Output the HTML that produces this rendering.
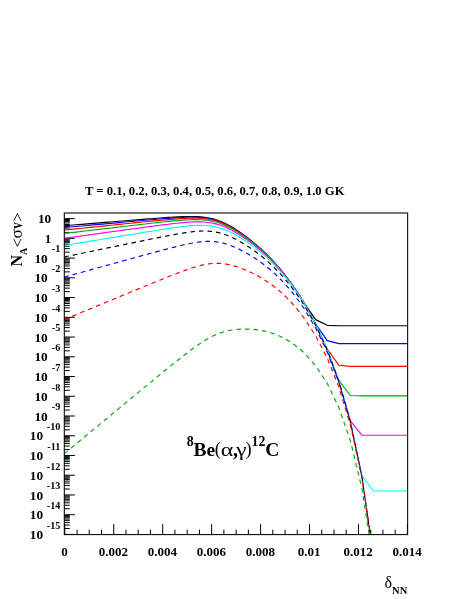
<!DOCTYPE html>
<html><head><meta charset="utf-8"><title>plot</title>
<style>html,body{margin:0;padding:0;background:#fff}body{width:463px;height:599px;overflow:hidden;font-family:"Liberation Serif",serif}</style></head>
<body>
<svg width="463" height="599" viewBox="0 0 463 599" style="display:block;will-change:transform">
<rect width="463" height="599" fill="#fff"/>
<defs><clipPath id="cp"><rect x="64.3" y="213.0" width="343.34999999999997" height="321.6"/></clipPath></defs>
<g stroke="#000" stroke-width="1">
<line x1="64.3" x2="74.89999999999999" y1="218.60" y2="218.60"/>
<line x1="64.3" x2="74.89999999999999" y1="238.34" y2="238.34"/>
<line x1="64.3" x2="74.89999999999999" y1="258.08" y2="258.08"/>
<line x1="64.3" x2="74.89999999999999" y1="277.82" y2="277.82"/>
<line x1="64.3" x2="74.89999999999999" y1="297.56" y2="297.56"/>
<line x1="64.3" x2="74.89999999999999" y1="317.30" y2="317.30"/>
<line x1="64.3" x2="74.89999999999999" y1="337.04" y2="337.04"/>
<line x1="64.3" x2="74.89999999999999" y1="356.78" y2="356.78"/>
<line x1="64.3" x2="74.89999999999999" y1="376.52" y2="376.52"/>
<line x1="64.3" x2="74.89999999999999" y1="396.26" y2="396.26"/>
<line x1="64.3" x2="74.89999999999999" y1="416.00" y2="416.00"/>
<line x1="64.3" x2="74.89999999999999" y1="435.74" y2="435.74"/>
<line x1="64.3" x2="74.89999999999999" y1="455.48" y2="455.48"/>
<line x1="64.3" x2="74.89999999999999" y1="475.22" y2="475.22"/>
<line x1="64.3" x2="74.89999999999999" y1="494.96" y2="494.96"/>
<line x1="64.3" x2="74.89999999999999" y1="514.70" y2="514.70"/>
<line x1="64.3" x2="74.89999999999999" y1="534.44" y2="534.44"/>
<line x1="64.3" x2="69.8" y1="232.40" y2="232.40"/>
<line x1="64.3" x2="69.8" y1="228.92" y2="228.92"/>
<line x1="64.3" x2="69.8" y1="226.46" y2="226.46"/>
<line x1="64.3" x2="69.8" y1="224.54" y2="224.54"/>
<line x1="64.3" x2="69.8" y1="222.98" y2="222.98"/>
<line x1="64.3" x2="69.8" y1="221.66" y2="221.66"/>
<line x1="64.3" x2="69.8" y1="220.51" y2="220.51"/>
<line x1="64.3" x2="69.8" y1="219.50" y2="219.50"/>
<line x1="64.3" x2="69.8" y1="252.14" y2="252.14"/>
<line x1="64.3" x2="69.8" y1="248.66" y2="248.66"/>
<line x1="64.3" x2="69.8" y1="246.20" y2="246.20"/>
<line x1="64.3" x2="69.8" y1="244.28" y2="244.28"/>
<line x1="64.3" x2="69.8" y1="242.72" y2="242.72"/>
<line x1="64.3" x2="69.8" y1="241.40" y2="241.40"/>
<line x1="64.3" x2="69.8" y1="240.25" y2="240.25"/>
<line x1="64.3" x2="69.8" y1="239.24" y2="239.24"/>
<line x1="64.3" x2="69.8" y1="271.88" y2="271.88"/>
<line x1="64.3" x2="69.8" y1="268.40" y2="268.40"/>
<line x1="64.3" x2="69.8" y1="265.94" y2="265.94"/>
<line x1="64.3" x2="69.8" y1="264.02" y2="264.02"/>
<line x1="64.3" x2="69.8" y1="262.46" y2="262.46"/>
<line x1="64.3" x2="69.8" y1="261.14" y2="261.14"/>
<line x1="64.3" x2="69.8" y1="259.99" y2="259.99"/>
<line x1="64.3" x2="69.8" y1="258.98" y2="258.98"/>
<line x1="64.3" x2="69.8" y1="291.62" y2="291.62"/>
<line x1="64.3" x2="69.8" y1="288.14" y2="288.14"/>
<line x1="64.3" x2="69.8" y1="285.68" y2="285.68"/>
<line x1="64.3" x2="69.8" y1="283.76" y2="283.76"/>
<line x1="64.3" x2="69.8" y1="282.20" y2="282.20"/>
<line x1="64.3" x2="69.8" y1="280.88" y2="280.88"/>
<line x1="64.3" x2="69.8" y1="279.73" y2="279.73"/>
<line x1="64.3" x2="69.8" y1="278.72" y2="278.72"/>
<line x1="64.3" x2="69.8" y1="311.36" y2="311.36"/>
<line x1="64.3" x2="69.8" y1="307.88" y2="307.88"/>
<line x1="64.3" x2="69.8" y1="305.42" y2="305.42"/>
<line x1="64.3" x2="69.8" y1="303.50" y2="303.50"/>
<line x1="64.3" x2="69.8" y1="301.94" y2="301.94"/>
<line x1="64.3" x2="69.8" y1="300.62" y2="300.62"/>
<line x1="64.3" x2="69.8" y1="299.47" y2="299.47"/>
<line x1="64.3" x2="69.8" y1="298.46" y2="298.46"/>
<line x1="64.3" x2="69.8" y1="331.10" y2="331.10"/>
<line x1="64.3" x2="69.8" y1="327.62" y2="327.62"/>
<line x1="64.3" x2="69.8" y1="325.16" y2="325.16"/>
<line x1="64.3" x2="69.8" y1="323.24" y2="323.24"/>
<line x1="64.3" x2="69.8" y1="321.68" y2="321.68"/>
<line x1="64.3" x2="69.8" y1="320.36" y2="320.36"/>
<line x1="64.3" x2="69.8" y1="319.21" y2="319.21"/>
<line x1="64.3" x2="69.8" y1="318.20" y2="318.20"/>
<line x1="64.3" x2="69.8" y1="350.84" y2="350.84"/>
<line x1="64.3" x2="69.8" y1="347.36" y2="347.36"/>
<line x1="64.3" x2="69.8" y1="344.90" y2="344.90"/>
<line x1="64.3" x2="69.8" y1="342.98" y2="342.98"/>
<line x1="64.3" x2="69.8" y1="341.42" y2="341.42"/>
<line x1="64.3" x2="69.8" y1="340.10" y2="340.10"/>
<line x1="64.3" x2="69.8" y1="338.95" y2="338.95"/>
<line x1="64.3" x2="69.8" y1="337.94" y2="337.94"/>
<line x1="64.3" x2="69.8" y1="370.58" y2="370.58"/>
<line x1="64.3" x2="69.8" y1="367.10" y2="367.10"/>
<line x1="64.3" x2="69.8" y1="364.64" y2="364.64"/>
<line x1="64.3" x2="69.8" y1="362.72" y2="362.72"/>
<line x1="64.3" x2="69.8" y1="361.16" y2="361.16"/>
<line x1="64.3" x2="69.8" y1="359.84" y2="359.84"/>
<line x1="64.3" x2="69.8" y1="358.69" y2="358.69"/>
<line x1="64.3" x2="69.8" y1="357.68" y2="357.68"/>
<line x1="64.3" x2="69.8" y1="390.32" y2="390.32"/>
<line x1="64.3" x2="69.8" y1="386.84" y2="386.84"/>
<line x1="64.3" x2="69.8" y1="384.38" y2="384.38"/>
<line x1="64.3" x2="69.8" y1="382.46" y2="382.46"/>
<line x1="64.3" x2="69.8" y1="380.90" y2="380.90"/>
<line x1="64.3" x2="69.8" y1="379.58" y2="379.58"/>
<line x1="64.3" x2="69.8" y1="378.43" y2="378.43"/>
<line x1="64.3" x2="69.8" y1="377.42" y2="377.42"/>
<line x1="64.3" x2="69.8" y1="410.06" y2="410.06"/>
<line x1="64.3" x2="69.8" y1="406.58" y2="406.58"/>
<line x1="64.3" x2="69.8" y1="404.12" y2="404.12"/>
<line x1="64.3" x2="69.8" y1="402.20" y2="402.20"/>
<line x1="64.3" x2="69.8" y1="400.64" y2="400.64"/>
<line x1="64.3" x2="69.8" y1="399.32" y2="399.32"/>
<line x1="64.3" x2="69.8" y1="398.17" y2="398.17"/>
<line x1="64.3" x2="69.8" y1="397.16" y2="397.16"/>
<line x1="64.3" x2="69.8" y1="429.80" y2="429.80"/>
<line x1="64.3" x2="69.8" y1="426.32" y2="426.32"/>
<line x1="64.3" x2="69.8" y1="423.86" y2="423.86"/>
<line x1="64.3" x2="69.8" y1="421.94" y2="421.94"/>
<line x1="64.3" x2="69.8" y1="420.38" y2="420.38"/>
<line x1="64.3" x2="69.8" y1="419.06" y2="419.06"/>
<line x1="64.3" x2="69.8" y1="417.91" y2="417.91"/>
<line x1="64.3" x2="69.8" y1="416.90" y2="416.90"/>
<line x1="64.3" x2="69.8" y1="449.54" y2="449.54"/>
<line x1="64.3" x2="69.8" y1="446.06" y2="446.06"/>
<line x1="64.3" x2="69.8" y1="443.60" y2="443.60"/>
<line x1="64.3" x2="69.8" y1="441.68" y2="441.68"/>
<line x1="64.3" x2="69.8" y1="440.12" y2="440.12"/>
<line x1="64.3" x2="69.8" y1="438.80" y2="438.80"/>
<line x1="64.3" x2="69.8" y1="437.65" y2="437.65"/>
<line x1="64.3" x2="69.8" y1="436.64" y2="436.64"/>
<line x1="64.3" x2="69.8" y1="469.28" y2="469.28"/>
<line x1="64.3" x2="69.8" y1="465.80" y2="465.80"/>
<line x1="64.3" x2="69.8" y1="463.34" y2="463.34"/>
<line x1="64.3" x2="69.8" y1="461.42" y2="461.42"/>
<line x1="64.3" x2="69.8" y1="459.86" y2="459.86"/>
<line x1="64.3" x2="69.8" y1="458.54" y2="458.54"/>
<line x1="64.3" x2="69.8" y1="457.39" y2="457.39"/>
<line x1="64.3" x2="69.8" y1="456.38" y2="456.38"/>
<line x1="64.3" x2="69.8" y1="489.02" y2="489.02"/>
<line x1="64.3" x2="69.8" y1="485.54" y2="485.54"/>
<line x1="64.3" x2="69.8" y1="483.08" y2="483.08"/>
<line x1="64.3" x2="69.8" y1="481.16" y2="481.16"/>
<line x1="64.3" x2="69.8" y1="479.60" y2="479.60"/>
<line x1="64.3" x2="69.8" y1="478.28" y2="478.28"/>
<line x1="64.3" x2="69.8" y1="477.13" y2="477.13"/>
<line x1="64.3" x2="69.8" y1="476.12" y2="476.12"/>
<line x1="64.3" x2="69.8" y1="508.76" y2="508.76"/>
<line x1="64.3" x2="69.8" y1="505.28" y2="505.28"/>
<line x1="64.3" x2="69.8" y1="502.82" y2="502.82"/>
<line x1="64.3" x2="69.8" y1="500.90" y2="500.90"/>
<line x1="64.3" x2="69.8" y1="499.34" y2="499.34"/>
<line x1="64.3" x2="69.8" y1="498.02" y2="498.02"/>
<line x1="64.3" x2="69.8" y1="496.87" y2="496.87"/>
<line x1="64.3" x2="69.8" y1="495.86" y2="495.86"/>
<line x1="64.3" x2="69.8" y1="528.50" y2="528.50"/>
<line x1="64.3" x2="69.8" y1="525.02" y2="525.02"/>
<line x1="64.3" x2="69.8" y1="522.56" y2="522.56"/>
<line x1="64.3" x2="69.8" y1="520.64" y2="520.64"/>
<line x1="64.3" x2="69.8" y1="519.08" y2="519.08"/>
<line x1="64.3" x2="69.8" y1="517.76" y2="517.76"/>
<line x1="64.3" x2="69.8" y1="516.61" y2="516.61"/>
<line x1="64.3" x2="69.8" y1="515.60" y2="515.60"/>
<line x1="64.80" x2="64.80" y1="534.6" y2="524.1"/>
<line x1="77.04" x2="77.04" y1="534.6" y2="529.6"/>
<line x1="89.27" x2="89.27" y1="534.6" y2="529.6"/>
<line x1="101.51" x2="101.51" y1="534.6" y2="529.6"/>
<line x1="113.75" x2="113.75" y1="534.6" y2="524.1"/>
<line x1="125.98" x2="125.98" y1="534.6" y2="529.6"/>
<line x1="138.22" x2="138.22" y1="534.6" y2="529.6"/>
<line x1="150.45" x2="150.45" y1="534.6" y2="529.6"/>
<line x1="162.69" x2="162.69" y1="534.6" y2="524.1"/>
<line x1="174.93" x2="174.93" y1="534.6" y2="529.6"/>
<line x1="187.16" x2="187.16" y1="534.6" y2="529.6"/>
<line x1="199.40" x2="199.40" y1="534.6" y2="529.6"/>
<line x1="211.64" x2="211.64" y1="534.6" y2="524.1"/>
<line x1="223.87" x2="223.87" y1="534.6" y2="529.6"/>
<line x1="236.11" x2="236.11" y1="534.6" y2="529.6"/>
<line x1="248.35" x2="248.35" y1="534.6" y2="529.6"/>
<line x1="260.58" x2="260.58" y1="534.6" y2="524.1"/>
<line x1="272.82" x2="272.82" y1="534.6" y2="529.6"/>
<line x1="285.06" x2="285.06" y1="534.6" y2="529.6"/>
<line x1="297.29" x2="297.29" y1="534.6" y2="529.6"/>
<line x1="309.53" x2="309.53" y1="534.6" y2="524.1"/>
<line x1="321.76" x2="321.76" y1="534.6" y2="529.6"/>
<line x1="334.00" x2="334.00" y1="534.6" y2="529.6"/>
<line x1="346.24" x2="346.24" y1="534.6" y2="529.6"/>
<line x1="358.47" x2="358.47" y1="534.6" y2="524.1"/>
<line x1="370.71" x2="370.71" y1="534.6" y2="529.6"/>
<line x1="382.95" x2="382.95" y1="534.6" y2="529.6"/>
<line x1="395.18" x2="395.18" y1="534.6" y2="529.6"/>
<line x1="407.42" x2="407.42" y1="534.6" y2="524.1"/>
</g>
<g clip-path="url(#cp)" fill="none" stroke-width="1.15" stroke-linejoin="round">
<polyline points="64.30,225.76 67.37,225.51 70.26,225.27 73.15,225.03 76.04,224.79 78.92,224.56 81.81,224.32 84.70,224.08 87.59,223.84 90.47,223.61 93.36,223.37 96.25,223.13 99.14,222.89 102.02,222.66 104.91,222.42 107.80,222.18 110.69,221.95 113.57,221.71 116.46,221.48 119.35,221.24 122.24,221.01 125.12,220.77 128.01,220.54 130.90,220.30 133.79,220.07 136.67,219.84 139.56,219.61 142.45,219.38 145.34,219.15 148.22,218.92 151.11,218.70 154.00,218.48 156.89,218.26 159.77,218.05 162.66,217.84 165.55,217.63 168.44,217.44 171.32,217.25 174.21,217.08 177.10,216.92 179.99,216.78 182.87,216.66 185.76,216.57 188.65,216.52 191.54,216.51 194.42,216.56 197.31,216.67 200.20,216.86 203.09,217.13 205.97,217.51 208.86,218.00 211.75,218.62 214.64,219.38 217.52,220.29 220.41,221.36 223.30,222.57 226.19,223.94 229.07,225.45 231.96,227.10 234.85,228.86 237.74,230.74 240.62,232.71 243.51,234.78 246.40,236.93 249.29,239.17 252.17,241.48 255.06,243.89 257.95,246.38 260.84,248.98 263.72,251.67 266.61,254.48 269.50,257.41 272.39,260.46 275.27,263.64 278.16,266.95 281.05,270.40 283.94,274.00 286.82,277.74 289.71,281.63 292.60,285.67 295.49,289.86 298.38,294.19 301.26,298.66 304.15,303.20 304.15,303.20 315.70,319.62 327.25,325.31 338.80,325.71 350.35,325.72 361.90,325.72 373.45,325.72 385.00,325.72 396.55,325.72 408.10,325.72" stroke="#000000"/>
<polyline points="64.30,227.59 67.37,227.30 70.26,227.04 73.15,226.78 76.04,226.51 78.92,226.25 81.81,225.98 84.70,225.72 87.59,225.46 90.47,225.19 93.36,224.93 96.25,224.66 99.14,224.40 102.02,224.14 104.91,223.87 107.80,223.61 110.69,223.35 113.57,223.09 116.46,222.82 119.35,222.56 122.24,222.30 125.12,222.04 128.01,221.78 130.90,221.52 133.79,221.26 136.67,221.00 139.56,220.74 142.45,220.49 145.34,220.23 148.22,219.98 151.11,219.73 154.00,219.48 156.89,219.23 159.77,218.99 162.66,218.76 165.55,218.53 168.44,218.31 171.32,218.09 174.21,217.89 177.10,217.71 179.99,217.54 182.87,217.40 185.76,217.28 188.65,217.20 191.54,217.17 194.42,217.19 197.31,217.27 200.20,217.43 203.09,217.68 205.97,218.03 208.86,218.50 211.75,219.09 214.64,219.83 217.52,220.71 220.41,221.75 223.30,222.94 226.19,224.28 229.07,225.76 231.96,227.38 234.85,229.12 237.74,230.97 240.62,232.92 243.51,234.96 246.40,237.08 249.29,239.29 252.17,241.58 255.06,243.96 257.95,246.43 260.84,249.00 263.72,251.67 266.61,254.45 269.50,257.35 272.39,260.37 275.27,263.53 278.16,266.82 281.05,270.24 283.94,273.82 286.82,277.54 289.71,281.42 292.60,285.46 295.49,289.67 298.38,294.06 301.26,298.63 304.15,303.38 304.15,303.38 315.70,324.00 327.25,340.61 338.80,343.57 350.35,343.65 361.90,343.65 373.45,343.65 385.00,343.65 396.55,343.65 408.10,343.65" stroke="#0000ff"/>
<polyline points="64.30,230.05 67.37,229.73 70.26,229.43 73.15,229.14 76.04,228.84 78.92,228.54 81.81,228.24 84.70,227.95 87.59,227.65 90.47,227.35 93.36,227.06 96.25,226.76 99.14,226.46 102.02,226.16 104.91,225.87 107.80,225.57 110.69,225.28 113.57,224.98 116.46,224.68 119.35,224.39 122.24,224.09 125.12,223.80 128.01,223.51 130.90,223.21 133.79,222.92 136.67,222.63 139.56,222.34 142.45,222.05 145.34,221.76 148.22,221.47 151.11,221.19 154.00,220.91 156.89,220.63 159.77,220.36 162.66,220.09 165.55,219.82 168.44,219.57 171.32,219.32 174.21,219.09 177.10,218.87 179.99,218.67 182.87,218.49 185.76,218.35 188.65,218.24 191.54,218.17 194.42,218.15 197.31,218.20 200.20,218.33 203.09,218.55 205.97,218.86 208.86,219.30 211.75,219.86 214.64,220.56 217.52,221.41 220.41,222.41 223.30,223.57 226.19,224.88 229.07,226.33 231.96,227.91 234.85,229.62 237.74,231.44 240.62,233.35 243.51,235.36 246.40,237.45 249.29,239.62 252.17,241.88 255.06,244.23 257.95,246.66 260.84,249.20 263.72,251.83 266.61,254.58 269.50,257.45 272.39,260.44 275.27,263.56 278.16,266.82 281.05,270.21 283.94,273.76 286.82,277.45 289.71,281.29 292.60,285.31 295.49,289.49 298.38,293.85 301.26,298.40 304.15,303.15 304.15,303.15 315.70,324.41 327.25,349.15 338.80,365.21 350.35,366.39 361.90,366.40 373.45,366.40 385.00,366.40 396.55,366.40 408.10,366.40" stroke="#ff0000"/>
<polyline points="64.30,233.44 67.37,233.08 70.26,232.74 73.15,232.40 76.04,232.06 78.92,231.72 81.81,231.38 84.70,231.04 87.59,230.70 90.47,230.36 93.36,230.02 96.25,229.68 99.14,229.34 102.02,229.00 104.91,228.66 107.80,228.32 110.69,227.98 113.57,227.65 116.46,227.31 119.35,226.97 122.24,226.63 125.12,226.29 128.01,225.96 130.90,225.62 133.79,225.29 136.67,224.95 139.56,224.62 142.45,224.29 145.34,223.96 148.22,223.63 151.11,223.30 154.00,222.98 156.89,222.66 159.77,222.34 162.66,222.03 165.55,221.72 168.44,221.42 171.32,221.13 174.21,220.86 177.10,220.60 179.99,220.35 182.87,220.13 185.76,219.94 188.65,219.79 191.54,219.68 194.42,219.62 197.31,219.63 200.20,219.71 203.09,219.89 205.97,220.16 208.86,220.55 211.75,221.07 214.64,221.73 217.52,222.54 220.41,223.50 223.30,224.61 226.19,225.88 229.07,227.29 231.96,228.83 234.85,230.49 237.74,232.26 240.62,234.14 243.51,236.10 246.40,238.15 249.29,240.28 252.17,242.50 255.06,244.80 257.95,247.19 260.84,249.68 263.72,252.28 266.61,254.99 269.50,257.81 272.39,260.76 275.27,263.84 278.16,267.05 281.05,270.40 283.94,273.90 286.82,277.55 289.71,281.36 292.60,285.32 295.49,289.46 298.38,293.79 301.26,298.30 304.15,303.01 304.15,303.01 315.70,324.15 327.25,349.84 338.80,380.44 350.35,395.52 361.90,395.85 373.45,395.85 385.00,395.85 396.55,395.85 408.10,395.85" stroke="#00aa00"/>
<polyline points="64.30,238.27 67.37,237.85 70.26,237.45 73.15,237.06 76.04,236.66 78.92,236.26 81.81,235.87 84.70,235.47 87.59,235.07 90.47,234.68 93.36,234.28 96.25,233.88 99.14,233.49 102.02,233.09 104.91,232.69 107.80,232.30 110.69,231.90 113.57,231.51 116.46,231.11 119.35,230.72 122.24,230.32 125.12,229.93 128.01,229.53 130.90,229.14 133.79,228.75 136.67,228.36 139.56,227.97 142.45,227.58 145.34,227.19 148.22,226.80 151.11,226.42 154.00,226.04 156.89,225.66 159.77,225.29 162.66,224.92 165.55,224.56 168.44,224.20 171.32,223.86 174.21,223.52 177.10,223.20 179.99,222.91 182.87,222.63 185.76,222.38 188.65,222.17 191.54,222.00 194.42,221.89 197.31,221.84 200.20,221.87 203.09,221.98 205.97,222.20 208.86,222.53 211.75,223.00 214.64,223.60 217.52,224.35 220.41,225.25 223.30,226.31 226.19,227.52 229.07,228.87 231.96,230.35 234.85,231.96 237.74,233.68 240.62,235.49 243.51,237.40 246.40,239.39 249.29,241.47 252.17,243.62 255.06,245.87 257.95,248.21 260.84,250.64 263.72,253.18 266.61,255.83 269.50,258.60 272.39,261.49 275.27,264.51 278.16,267.66 281.05,270.96 283.94,274.40 286.82,277.99 289.71,281.74 292.60,285.66 295.49,289.74 298.38,294.00 301.26,298.45 304.15,303.11 304.15,303.11 315.70,324.02 327.25,349.53 338.80,381.39 350.35,420.86 361.90,435.20 373.45,435.25 385.00,435.25 396.55,435.25 408.10,435.25" stroke="#ff00ff"/>
<polyline points="64.30,245.47 67.37,244.96 70.26,244.49 73.15,244.01 76.04,243.53 78.92,243.06 81.81,242.58 84.70,242.10 87.59,241.63 90.47,241.15 93.36,240.67 96.25,240.20 99.14,239.72 102.02,239.24 104.91,238.77 107.80,238.29 110.69,237.82 113.57,237.34 116.46,236.87 119.35,236.39 122.24,235.92 125.12,235.44 128.01,234.97 130.90,234.50 133.79,234.03 136.67,233.56 139.56,233.08 142.45,232.62 145.34,232.15 148.22,231.68 151.11,231.22 154.00,230.76 156.89,230.30 159.77,229.85 162.66,229.40 165.55,228.96 168.44,228.52 171.32,228.10 174.21,227.68 177.10,227.29 179.99,226.91 182.87,226.55 185.76,226.22 188.65,225.93 191.54,225.69 194.42,225.49 197.31,225.36 200.20,225.31 203.09,225.35 205.97,225.48 208.86,225.74 211.75,226.12 214.64,226.64 217.52,227.31 220.41,228.14 223.30,229.11 226.19,230.24 229.07,231.51 231.96,232.92 234.85,234.45 237.74,236.08 240.62,237.82 243.51,239.65 246.40,241.56 249.29,243.55 252.17,245.63 255.06,247.80 257.95,250.06 260.84,252.41 263.72,254.87 266.61,257.44 269.50,260.13 272.39,262.94 275.27,265.88 278.16,268.96 281.05,272.17 283.94,275.53 286.82,279.05 289.71,282.71 292.60,286.55 295.49,290.55 298.38,294.73 301.26,299.11 304.15,303.68 304.15,303.68 315.70,324.28 327.25,349.46 338.80,381.02 350.35,421.91 361.90,475.90 373.45,491.00 385.00,491.00 396.55,491.00 408.10,491.00" stroke="#00ffff"/>
<polyline points="64.30,256.91 67.37,256.27 70.26,255.68 73.15,255.08 76.04,254.49 78.92,253.89 81.81,253.29 84.70,252.70 87.59,252.10 90.47,251.50 93.36,250.91 96.25,250.31 99.14,249.72 102.02,249.12 104.91,248.53 107.80,247.93 110.69,247.34 113.57,246.74 116.46,246.15 119.35,245.55 122.24,244.96 125.12,244.36 128.01,243.77 130.90,243.18 133.79,242.59 136.67,242.00 139.56,241.41 142.45,240.82 145.34,240.23 148.22,239.65 151.11,239.06 154.00,238.48 156.89,237.91 159.77,237.33 162.66,236.77 165.55,236.20 168.44,235.65 171.32,235.10 174.21,234.57 177.10,234.05 179.99,233.55 182.87,233.08 185.76,232.63 188.65,232.22 191.54,231.86 194.42,231.54 197.31,231.29 200.20,231.12 203.09,231.04 205.97,231.06 208.86,231.19 211.75,231.45 214.64,231.86 217.52,232.41 220.41,233.11 223.30,233.97 226.19,234.98 229.07,236.13 231.96,237.42 234.85,238.82 237.74,240.34 240.62,241.96 243.51,243.66 246.40,245.46 249.29,247.33 252.17,249.29 255.06,251.34 257.95,253.47 260.84,255.71 263.72,258.05 266.61,260.50 269.50,263.07 272.39,265.76 275.27,268.58 278.16,271.54 281.05,274.63 283.94,277.88 286.82,281.27 289.71,284.82 292.60,288.53 295.49,292.42 298.38,296.48 301.26,300.73 304.15,305.19 304.15,305.19 315.70,325.31 327.25,350.01 338.80,381.09 350.35,421.51 361.90,476.62 373.45,557.34 385.00,690.96 396.55,700.00 408.10,700.00" stroke="#000000" stroke-dasharray="4.6 3.97"/>
<polyline points="64.30,277.06 67.37,276.21 70.26,275.41 73.15,274.62 76.04,273.82 78.92,273.03 81.81,272.23 84.70,271.44 87.59,270.64 90.47,269.84 93.36,269.05 96.25,268.25 99.14,267.46 102.02,266.66 104.91,265.87 107.80,265.07 110.69,264.28 113.57,263.49 116.46,262.69 119.35,261.90 122.24,261.11 125.12,260.31 128.01,259.52 130.90,258.73 133.79,257.94 136.67,257.15 139.56,256.36 142.45,255.57 145.34,254.79 148.22,254.00 151.11,253.22 154.00,252.44 156.89,251.66 159.77,250.89 162.66,250.12 165.55,249.36 168.44,248.61 171.32,247.86 174.21,247.13 177.10,246.41 179.99,245.72 182.87,245.04 185.76,244.40 188.65,243.79 191.54,243.22 194.42,242.71 197.31,242.26 200.20,241.89 203.09,241.60 205.97,241.42 208.86,241.36 211.75,241.42 214.64,241.63 217.52,241.98 220.41,242.48 223.30,243.14 226.19,243.95 229.07,244.90 231.96,245.99 234.85,247.20 237.74,248.52 240.62,249.93 243.51,251.44 246.40,253.03 249.29,254.71 252.17,256.47 255.06,258.32 257.95,260.25 260.84,262.29 263.72,264.43 266.61,266.68 269.50,269.05 272.39,271.54 275.27,274.16 278.16,276.92 281.05,279.82 283.94,282.86 286.82,286.06 289.71,289.41 292.60,292.92 295.49,296.60 298.38,300.47 301.26,304.52 304.15,308.78 304.15,308.78 315.70,328.10 327.25,352.01 338.80,382.29 350.35,421.91 361.90,476.22 373.45,556.15 385.00,688.97 396.55,700.00 408.10,700.00" stroke="#0000ff" stroke-dasharray="4.6 3.97"/>
<polyline points="64.30,319.53 67.37,318.26 70.26,317.06 73.15,315.87 76.04,314.68 78.92,313.48 81.81,312.29 84.70,311.09 87.59,309.90 90.47,308.70 93.36,307.51 96.25,306.32 99.14,305.12 102.02,303.93 104.91,302.74 107.80,301.54 110.69,300.35 113.57,299.16 116.46,297.96 119.35,296.77 122.24,295.58 125.12,294.39 128.01,293.20 130.90,292.01 133.79,290.82 136.67,289.63 139.56,288.44 142.45,287.26 145.34,286.07 148.22,284.89 151.11,283.71 154.00,282.53 156.89,281.35 159.77,280.18 162.66,279.02 165.55,277.86 168.44,276.71 171.32,275.56 174.21,274.43 177.10,273.32 179.99,272.22 182.87,271.15 185.76,270.10 188.65,269.09 191.54,268.13 194.42,267.22 197.31,266.37 200.20,265.60 203.09,264.92 205.97,264.34 208.86,263.88 211.75,263.54 214.64,263.35 217.52,263.30 220.41,263.40 223.30,263.66 226.19,264.07 229.07,264.63 231.96,265.32 234.85,266.13 237.74,267.05 240.62,268.06 243.51,269.17 246.40,270.37 249.29,271.65 252.17,273.01 255.06,274.45 257.95,275.99 260.84,277.63 263.72,279.37 266.61,281.22 269.50,283.19 272.39,285.29 275.27,287.51 278.16,289.87 281.05,292.37 283.94,295.01 286.82,297.81 289.71,300.76 292.60,303.88 295.49,307.16 298.38,310.63 301.26,314.28 304.15,318.14 304.15,318.14 315.70,335.87 327.25,358.18 338.80,386.87 350.35,424.89 361.90,477.61 373.45,555.95 385.00,687.17 396.55,700.00 408.10,700.00" stroke="#ff0000" stroke-dasharray="4.6 3.97"/>
<polyline points="64.30,453.67 67.37,451.12 70.26,448.73 73.15,446.34 76.04,443.95 78.92,441.56 81.81,439.17 84.70,436.78 87.59,434.39 90.47,432.00 93.36,429.61 96.25,427.22 99.14,424.83 102.02,422.44 104.91,420.05 107.80,417.66 110.69,415.28 113.57,412.89 116.46,410.50 119.35,408.11 122.24,405.72 125.12,403.33 128.01,400.95 130.90,398.56 133.79,396.18 136.67,393.79 139.56,391.41 142.45,389.03 145.34,386.65 148.22,384.27 151.11,381.89 154.00,379.52 156.89,377.15 159.77,374.78 162.66,372.42 165.55,370.06 168.44,367.71 171.32,365.37 174.21,363.05 177.10,360.74 179.99,358.44 182.87,356.17 185.76,353.93 188.65,351.73 191.54,349.57 194.42,347.46 197.31,345.42 200.20,343.45 203.09,341.58 205.97,339.80 208.86,338.14 211.75,336.61 214.64,335.22 217.52,333.97 220.41,332.88 223.30,331.95 226.19,331.16 229.07,330.52 231.96,330.01 234.85,329.63 237.74,329.35 240.62,329.17 243.51,329.09 246.40,329.09 249.29,329.17 252.17,329.33 255.06,329.59 257.95,329.93 260.84,330.37 263.72,330.92 266.61,331.57 269.50,332.35 272.39,333.24 275.27,334.27 278.16,335.44 281.05,336.74 283.94,338.19 286.82,339.79 289.71,341.54 292.60,343.46 295.49,345.55 298.38,347.82 301.26,350.28 304.15,352.94 304.15,352.94 315.70,365.88 327.25,383.41 338.80,407.32 350.35,440.56 361.90,488.49 373.45,562.05 385.00,688.49 396.55,700.00 408.10,700.00" stroke="#00aa00" stroke-dasharray="4.6 3.97"/>
</g>
<rect x="64.3" y="213.0" width="343.34999999999997" height="321.6" fill="none" stroke="#000" stroke-width="1.05"/>
<g font-family="Liberation Serif, serif" font-weight="bold" fill="#000">
<text x="85" y="195.4" font-size="12.7" textLength="259.5" lengthAdjust="spacingAndGlyphs">T = 0.1, 0.2, 0.3, 0.4, 0.5, 0.6, 0.7, 0.8, 0.9, 1.0 GK</text>
<text x="64.50" y="556.1" font-size="13" text-anchor="middle">0</text>
<text x="113.45" y="556.1" font-size="13" text-anchor="middle">0.002</text>
<text x="162.39" y="556.1" font-size="13" text-anchor="middle">0.004</text>
<text x="211.34" y="556.1" font-size="13" text-anchor="middle">0.006</text>
<text x="260.28" y="556.1" font-size="13" text-anchor="middle">0.008</text>
<text x="309.23" y="556.1" font-size="13" text-anchor="middle">0.01</text>
<text x="358.17" y="556.1" font-size="13" text-anchor="middle">0.012</text>
<text x="407.12" y="556.1" font-size="13" text-anchor="middle">0.014</text>
<text x="51.2" y="223.20" font-size="13.3" text-anchor="end">10</text>
<text x="51.2" y="242.94" font-size="13" text-anchor="end">1</text>
<text x="47.75" y="262.68" font-size="13.3" text-anchor="end">10</text>
<text x="60.35" y="252.38" font-size="10.2" text-anchor="end">-1</text>
<text x="47.75" y="282.42" font-size="13.3" text-anchor="end">10</text>
<text x="60.35" y="272.12" font-size="10.2" text-anchor="end">-2</text>
<text x="47.75" y="302.16" font-size="13.3" text-anchor="end">10</text>
<text x="60.35" y="291.86" font-size="10.2" text-anchor="end">-3</text>
<text x="47.75" y="321.90" font-size="13.3" text-anchor="end">10</text>
<text x="60.35" y="311.60" font-size="10.2" text-anchor="end">-4</text>
<text x="47.75" y="341.64" font-size="13.3" text-anchor="end">10</text>
<text x="60.35" y="331.34" font-size="10.2" text-anchor="end">-5</text>
<text x="47.75" y="361.38" font-size="13.3" text-anchor="end">10</text>
<text x="60.35" y="351.08" font-size="10.2" text-anchor="end">-6</text>
<text x="47.75" y="381.12" font-size="13.3" text-anchor="end">10</text>
<text x="60.35" y="370.82" font-size="10.2" text-anchor="end">-7</text>
<text x="47.75" y="400.86" font-size="13.3" text-anchor="end">10</text>
<text x="60.35" y="390.56" font-size="10.2" text-anchor="end">-8</text>
<text x="47.75" y="420.60" font-size="13.3" text-anchor="end">10</text>
<text x="60.35" y="410.30" font-size="10.2" text-anchor="end">-9</text>
<text x="43.1" y="440.34" font-size="13.3" text-anchor="end">10</text>
<text x="60.35" y="430.04" font-size="10.2" text-anchor="end">-10</text>
<text x="43.1" y="460.08" font-size="13.3" text-anchor="end">10</text>
<text x="60.35" y="449.78" font-size="10.2" text-anchor="end">-11</text>
<text x="43.1" y="479.82" font-size="13.3" text-anchor="end">10</text>
<text x="60.35" y="469.52" font-size="10.2" text-anchor="end">-12</text>
<text x="43.1" y="499.56" font-size="13.3" text-anchor="end">10</text>
<text x="60.35" y="489.26" font-size="10.2" text-anchor="end">-13</text>
<text x="43.1" y="519.30" font-size="13.3" text-anchor="end">10</text>
<text x="60.35" y="509.00" font-size="10.2" text-anchor="end">-14</text>
<text x="43.1" y="539.04" font-size="13.3" text-anchor="end">10</text>
<text x="60.35" y="528.74" font-size="10.2" text-anchor="end">-15</text>
<g transform="translate(22,266.5) rotate(-90)" font-size="16">
<text x="0" y="0">N</text>
<text x="11.4" y="4.6" font-size="10">A</text>
<text x="18.9" y="1.1" font-weight="normal" font-size="16.5">&lt;</text>
<text x="28.0" y="0" font-weight="normal" textLength="9.3" lengthAdjust="spacingAndGlyphs">σ</text>
<text x="37.7" y="0" textLength="6.4" lengthAdjust="spacingAndGlyphs">v</text>
<text x="44.7" y="1.1" font-weight="normal" font-size="16.5">&gt;</text>
</g>
<text x="384.5" y="588" font-size="16" font-weight="normal">δ<tspan font-size="10.5" dy="5.6" font-weight="bold">NN</tspan></text>
<text x="186.8" y="445.9" font-size="13.9">8</text>
<text x="193.5" y="456.3" font-size="19.5">Be</text>
<text x="214.7" y="455.3" font-size="18.4" font-weight="normal">(</text>
<text transform="translate(220.7,456.3) scale(1.3,1)" font-size="18.4" font-weight="normal">α</text>
<text x="233.0" y="456.3" font-size="20">,</text>
<text transform="translate(236.3,455.9) scale(1.25,1)" font-size="18.6" font-weight="normal">γ</text>
<text x="245.6" y="455.3" font-size="18.4" font-weight="normal">)</text>
<text x="251.5" y="445.8" font-size="13.8">12</text>
<text x="265.3" y="456.3" font-size="19.5">C</text>
</g>
</svg>
</body></html>
